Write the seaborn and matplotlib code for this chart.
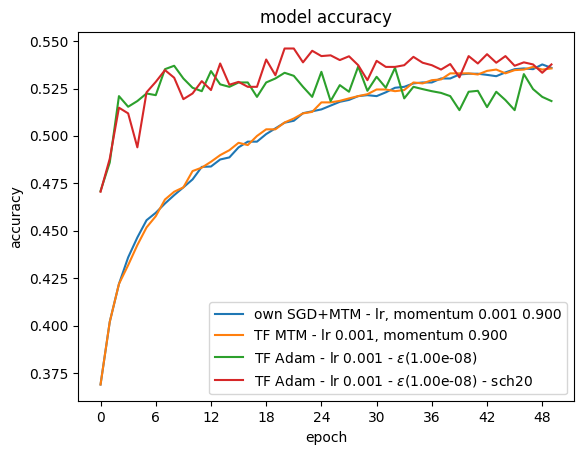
import numpy as np
import pandas as pd
import seaborn as sns
import matplotlib
matplotlib.use('Agg')
import matplotlib.pyplot as plt

epochs = list(range(50))

own_sgd = [0.369, 0.402, 0.422, 0.436, 0.4465, 0.4556, 0.4595, 0.4644, 0.4688, 0.4729,
           0.4771, 0.4837, 0.4839, 0.4876, 0.4887, 0.494, 0.497, 0.497, 0.501, 0.504,
           0.507, 0.508, 0.512, 0.513, 0.514, 0.516, 0.518, 0.519, 0.521, 0.5215,
           0.521, 0.523, 0.5254, 0.5259, 0.5277, 0.5282, 0.5282, 0.5303, 0.5303, 0.5324,
           0.5328, 0.5328, 0.5322, 0.5315, 0.5335, 0.5352, 0.5356, 0.5352, 0.5377, 0.5359]

tf_mtm = [0.369, 0.402, 0.422, 0.4319, 0.4425, 0.4518, 0.4577, 0.4665, 0.4706, 0.4729,
          0.4815, 0.4833, 0.4864, 0.4899, 0.4925, 0.4964, 0.4952, 0.500, 0.5035, 0.5035,
          0.5071, 0.5092, 0.5119, 0.5127, 0.5177, 0.5177, 0.5185, 0.5198, 0.521, 0.522,
          0.5245, 0.5245, 0.5236, 0.5242, 0.5282, 0.5277, 0.5294, 0.5298, 0.533, 0.533,
          0.533, 0.5324, 0.5343, 0.535, 0.533, 0.5347, 0.535, 0.5364, 0.535, 0.5356]

tf_adam = [0.471, 0.486, 0.521, 0.5154, 0.5184, 0.5224, 0.5215, 0.5352, 0.537, 0.5303,
           0.5254, 0.5236, 0.5342, 0.5272, 0.5259, 0.5282, 0.5282, 0.5206, 0.5282, 0.5303,
           0.5333, 0.5317, 0.5259, 0.5206, 0.5338, 0.5184, 0.5268, 0.5233, 0.5366, 0.5238,
           0.5312, 0.5254, 0.5359, 0.5198, 0.5259, 0.5247, 0.5236, 0.5227, 0.521, 0.5136,
           0.5233, 0.5238, 0.5152, 0.5233, 0.5189, 0.5136, 0.5326, 0.5247, 0.5206, 0.5184]

tf_adam_sch = [0.4706, 0.488, 0.5149, 0.5119, 0.494, 0.523, 0.5285, 0.5347, 0.5307, 0.5194,
               0.5224, 0.5289, 0.5242, 0.5382, 0.527, 0.5285, 0.5259, 0.5259, 0.5403, 0.532,
               0.5461, 0.5461, 0.5388, 0.5449, 0.5421, 0.5425, 0.540, 0.542, 0.5373, 0.5294,
               0.5396, 0.5364, 0.5364, 0.5373, 0.5417, 0.5386, 0.5373, 0.535, 0.5379, 0.5309,
               0.5421, 0.5382, 0.5431, 0.5386, 0.5421, 0.537, 0.5388, 0.5377, 0.5333, 0.5377]

labels = ['own SGD+MTM - lr, momentum 0.001 0.900',
          'TF MTM - lr 0.001, momentum 0.900',
          'TF Adam - lr 0.001 - $\\epsilon$(1.00e-08)',
          'TF Adam - lr 0.001 - $\\epsilon$(1.00e-08) - sch20']

fig = plt.figure(figsize=(5.84, 4.55), dpi=100)
ax = fig.add_axes([78 / 584, 1 - 401.3 / 455, 496 / 584, 369.6 / 455])

for vals, lab in zip([own_sgd, tf_mtm, tf_adam, tf_adam_sch], labels):
    sns.lineplot(x=epochs, y=vals, label=lab, ax=ax, lw=1.5)

ax.set_xticks(range(0, 49, 6))
ax.set_title('model accuracy')
ax.set_xlabel('epoch')
ax.set_ylabel('accuracy')
ax.legend(loc='lower right')

fig.savefig('out.png', dpi=100)
